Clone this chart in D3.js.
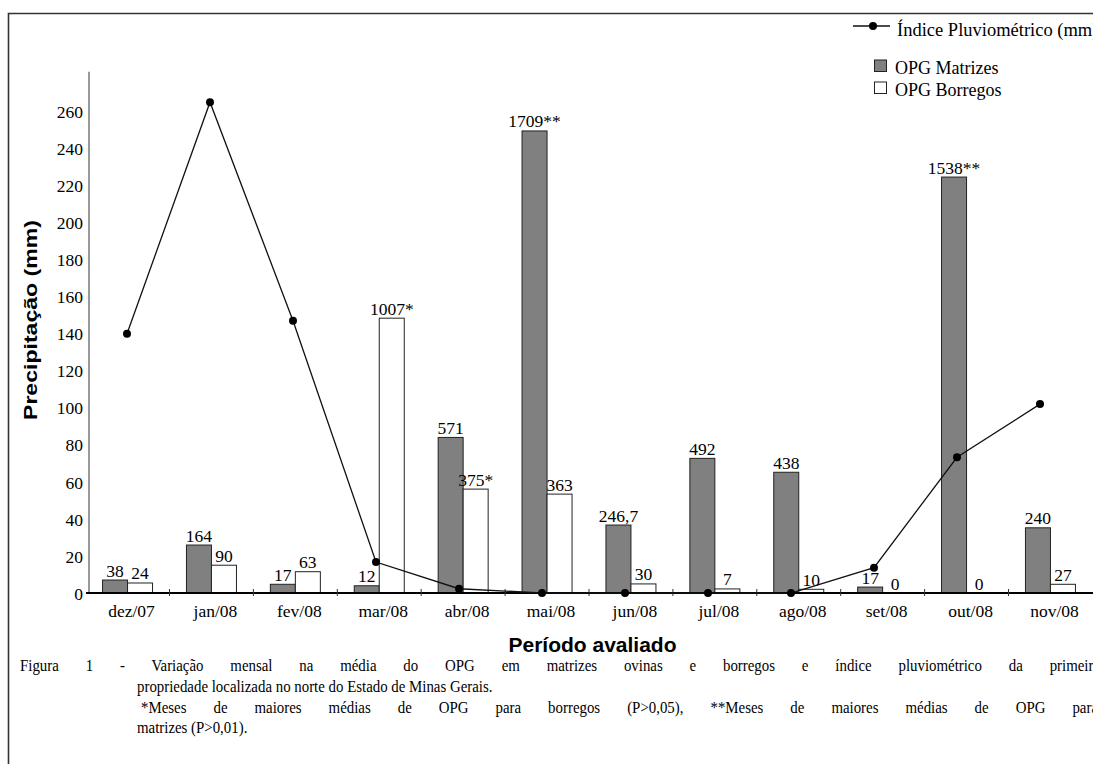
<!DOCTYPE html>
<html>
<head>
<meta charset="utf-8">
<script src="https://cdn.jsdelivr.net/npm/d3@7"></script>
<style>
    body { margin: 0; background: #fff; }
    svg { display: block; }
    .serif { font-family: "Liberation Serif", "Times New Roman", serif; fill: #000; }
    .sans { font-family: "Liberation Sans", Arial, sans-serif; font-weight: bold; fill: #000; }
</style>
</head>
<body>
<div id="chart"></div>
<script>
// 月份（类别）
const months = ["dez/07", "jan/08", "fev/08", "mar/08", "abr/08", "mai/08",
                "jun/08", "jul/08", "ago/08", "set/08", "out/08", "nov/08"];

// 降雨指数 (mm)
const rainIndex = [140, 265, 147, 16.7, 2.3, 0, 0, 0, 0, 13.7, 73.3, 102];

// 柱高（按图中纵轴读取）
const opgMatrizes = [7.0, 25.9, 4.7, 3.9, 84, 249.5, 36.7, 72.7, 65.2, 3.2, 224.6, 35.2];
const opgBorregos = [5.4, 15, 11.5, 148.4, 56.1, 53.4, 4.9, 2.2, 2.0, 0, 0, 4.7];

// 柱顶标签
const labelsMatrizes = ["38", "164", "17", "12", "571", "1709**", "246,7", "492", "438", "17", "1538**", "240"];
const labelsBorregos = ["24", "90", "63", "1007*", "375*", "363", "30", "7", "10", "0", "0", "27"];

// 纵轴刻度
const yTicks = [0, 20, 40, 60, 80, 100, 120, 140, 160, 180, 200, 220, 240, 260];

const series = ["Matrizes", "Borregos"];

// 图注文字
const captionLines = [
    "Figura 1 - Variação mensal na média do OPG em matrizes ovinas e borregos e índice pluviométrico da primeira",
    "propriedade localizada no norte do Estado de Minas Gerais.",
    "*Meses de maiores médias de OPG para borregos (P>0,05), **Meses de maiores médias de OPG para",
    "matrizes (P>0,01)."
];

const width = 1093, height = 764;

const svg = d3.select("#chart").append("svg")
    .attr("width", width)
    .attr("height", height);

// 外框（左、上）
svg.append("path")
    .attr("d", `M8.5,${height}V13.5H${width}`)
    .attr("fill", "none")
    .attr("stroke", "#333")
    .attr("stroke-width", 1.6);

// 比例尺
const y = d3.scaleLinear().domain([0, 260]).range([593, 111.5]);
const x0 = d3.scaleBand().domain(months).range([85.6, 1092.4]);
const x1 = d3.scaleBand().domain(series).range([0, 50]);
const xLine = d3.scalePoint().domain(months).range([127, 1040]);

// 纵轴线（灰色）
svg.append("line")
    .attr("x1", 89).attr("x2", 89)
    .attr("y1", y(0)).attr("y2", y(281.5))
    .attr("stroke", "#777")
    .attr("stroke-width", 1.5);

// 纵轴刻度标签
const yAxis = svg.append("g")
    .attr("transform", "translate(89,0)")
    .call(d3.axisLeft(y).tickValues(yTicks).tickSize(0).tickPadding(6));
yAxis.select(".domain").remove();
yAxis.selectAll("text")
    .attr("class", "serif")
    .style("font-size", "17.5px")
    .attr("dy", "0.35em");

// 柱子
const groups = svg.append("g")
    .selectAll("g")
    .data(months)
    .join("g")
    .attr("transform", d => `translate(${x0(d) + (x0.bandwidth() - 50) / 2},0)`);

groups.each(function (m, i) {
    const g = d3.select(this);
    const vals = [opgMatrizes[i], opgBorregos[i]];
    const labs = [labelsMatrizes[i], labelsBorregos[i]];
    series.forEach((s, j) => {
        if (vals[j] > 0) {
            g.append("rect")
                .attr("x", x1(s))
                .attr("y", y(vals[j]))
                .attr("width", x1.bandwidth())
                .attr("height", y(0) - y(vals[j]))
                .attr("fill", j === 0 ? "#808080" : "#fff")
                .attr("stroke", "#222")
                .attr("stroke-width", 1);
        }
        g.append("text")
            .attr("class", "serif")
            .attr("x", x1(s) + x1.bandwidth() / 2)
            .attr("y", y(vals[j]) - 3.5)
            .attr("text-anchor", "middle")
            .style("font-size", "17.5px")
            .text(labs[j]);
    });
});

// 零基线
svg.append("line")
    .attr("x1", 86).attr("x2", width)
    .attr("y1", y(0)).attr("y2", y(0))
    .attr("stroke", "#000")
    .attr("stroke-width", 2);

// 横轴分隔刻度
svg.append("g")
    .selectAll("line")
    .data(months.slice(1))
    .join("line")
    .attr("x1", d => x0(d)).attr("x2", d => x0(d))
    .attr("y1", y(0) - 4).attr("y2", y(0) + 3)
    .attr("stroke", "#333")
    .attr("stroke-width", 1);

// 横轴标签
const xAxis = svg.append("g")
    .attr("transform", `translate(0,${y(0)})`)
    .call(d3.axisBottom(x0).tickSize(0).tickPadding(0));
xAxis.select(".domain").remove();
xAxis.selectAll("text")
    .attr("class", "serif")
    .style("font-size", "17.5px")
    .attr("dx", 4)
    .attr("y", 24)
    .attr("dy", 0);

// 降雨折线
const line = d3.line()
    .x((d, i) => xLine(months[i]))
    .y(d => y(d));

svg.append("path")
    .datum(rainIndex)
    .attr("d", line)
    .attr("fill", "none")
    .attr("stroke", "#111")
    .attr("stroke-width", 1.3);

svg.append("g")
    .selectAll("circle")
    .data(rainIndex)
    .join("circle")
    .attr("cx", (d, i) => xLine(months[i]))
    .attr("cy", d => y(d))
    .attr("r", 4)
    .attr("fill", "#000");

// 图例
const legend = svg.append("g");
legend.append("line")
    .attr("x1", 853).attr("x2", 890)
    .attr("y1", 26).attr("y2", 26)
    .attr("stroke", "#111").attr("stroke-width", 1.3);
legend.append("circle")
    .attr("cx", 873).attr("cy", 26).attr("r", 4).attr("fill", "#000");
legend.append("text")
    .attr("class", "serif")
    .attr("x", 897).attr("y", 36)
    .style("font-size", "18.5px")
    .text("Índice Pluviométrico (mm)");

const legendItems = [
    { name: "OPG Matrizes", fill: "#808080", y: 60 },
    { name: "OPG Borregos", fill: "#fff", y: 82 }
];
legendItems.forEach(item => {
    legend.append("rect")
        .attr("x", 874.5).attr("y", item.y)
        .attr("width", 12).attr("height", 11.5)
        .attr("fill", item.fill)
        .attr("stroke", "#222").attr("stroke-width", 1);
    legend.append("text")
        .attr("class", "serif")
        .attr("x", 895).attr("y", item.y + 13.5)
        .style("font-size", "18px")
        .text(item.name);
});

// 轴标题
svg.append("text")
    .attr("class", "sans")
    .attr("transform", "translate(37,320) rotate(-90)")
    .attr("text-anchor", "middle")
    .attr("textLength", 200)
    .attr("lengthAdjust", "spacingAndGlyphs")
    .style("font-size", "19px")
    .text("Precipitação (mm)");

svg.append("text")
    .attr("class", "sans")
    .attr("x", 592.5).attr("y", 652)
    .attr("text-anchor", "middle")
    .style("font-size", "21px")
    .text("Período avaliado");

// 图注（压缩字体，首行与第三行两端对齐）
const capFont = 17.5;
const sx = 0.85;
const capRows = [
    { x: 20, y: 671, target: 1080, justify: true },
    { x: 137, y: 692, justify: false },
    { x: 141, y: 713, target: 957, justify: true },
    { x: 137, y: 733, justify: false }
];

captionLines.forEach((txt, i) => {
    const r = capRows[i];
    const t = svg.append("text")
        .attr("class", "serif")
        .attr("transform", `translate(${r.x},${r.y}) scale(${sx},1)`)
        .style("font-size", capFont + "px")
        .text(txt);
    if (r.justify) {
        const natural = t.node().getComputedTextLength();
        const spaces = txt.split(" ").length - 1;
        const extra = Math.max(0, (r.target / sx - natural) / spaces);
        t.style("word-spacing", extra + "px");
    }
});
</script>
</body>
</html>
